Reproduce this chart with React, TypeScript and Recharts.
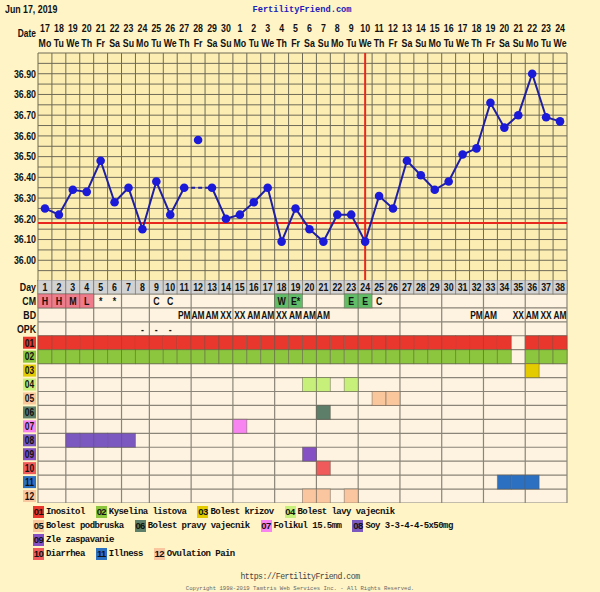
import React from 'react';
import {
  ComposedChart,
  ScatterChart,
  Line,
  Scatter,
  XAxis,
  YAxis,
  CartesianGrid,
  ReferenceLine,
} from 'recharts';

// ---- data ----
const days = [1, 2, 3, 4, 5, 6, 7, 8, 9, 10, 11, 12, 13, 14, 15, 16, 17, 18, 19, 20, 21, 22, 23, 24, 25, 26, 27, 28, 29, 30, 31, 32, 33, 34, 35, 36, 37, 38];
const dateNums = ['17', '18', '19', '20', '21', '22', '23', '24', '25', '26', '27', '28', '29', '30', '1', '2', '3', '4', '5', '6', '7', '8', '9', '10', '11', '12', '13', '14', '15', '16', '17', '18', '19', '20', '21', '22', '23', '24'];
const weekdays = ['Mo', 'Tu', 'We', 'Th', 'Fr', 'Sa', 'Su', 'Mo', 'Tu', 'We', 'Th', 'Fr', 'Sa', 'Su', 'Mo', 'Tu', 'We', 'Th', 'Fr', 'Sa', 'Su', 'Mo', 'Tu', 'We', 'Th', 'Fr', 'Sa', 'Su', 'Mo', 'Tu', 'We', 'Th', 'Fr', 'Sa', 'Su', 'Mo', 'Tu', 'We'];

const temps: (number | null)[] = [36.25, 36.22, 36.34, 36.33, 36.48, 36.28, 36.35, 36.15, 36.38, 36.22, 36.35, null, 36.35, 36.2, 36.22, 36.28, 36.35, 36.09, 36.25, 36.15, 36.09, 36.22, 36.22, 36.09, 36.31, 36.25, 36.48, 36.41, 36.34, 36.38, 36.51, 36.54, 36.76, 36.64, 36.7, 36.9, 36.69, 36.67];
const discardDay = 12;
const discardTemp = 36.58;
const bridgeDays = [11, 13];
const coverline = 36.18;
const ovulationDay = 24;

const tempTicks = [35.9, 35.95, 36.0, 36.05, 36.1, 36.15, 36.2, 36.25, 36.3, 36.35, 36.4, 36.45, 36.5, 36.55, 36.6, 36.65, 36.7, 36.75, 36.8, 36.85, 36.9, 36.95, 37.0];
const tempLabels = [36.0, 36.1, 36.2, 36.3, 36.4, 36.5, 36.6, 36.7, 36.8, 36.9];

const rowLabels = ['Day', 'CM', 'BD', 'OPK', '01', '02', '03', '04', '05', '06', '07', '08', '09', '10', '11', '12'];
const rowIds = [1, 2, 3, 4, 5, 6, 7, 8, 9, 10, 11, 12, 13, 14, 15, 16];

const cm = ['H', 'H', 'M', 'L', '*', '*', '', '', 'C', 'C', '', '', '', '', '', '', '', 'W', 'E*', '', '', '', 'E', 'E', 'C', '', '', '', '', '', '', '', '', '', '', '', '', ''];
const bd = ['', '', '', '', '', '', '', '', '', '', 'PM', 'AM', 'AM', 'XX', 'XX', 'AM', 'AM', 'XX', 'AM', 'AM', 'AM', '', '', '', '', '', '', '', '', '', '', 'PM', 'AM', '', 'XX', 'AM', 'XX', 'AM'];
const opk = ['', '', '', '', '', '', '', '-', '-', '-', '', '', '', '', '', '', '', '', '', '', '', '', '', '', '', '', '', '', '', '', '', '', '', '', '', '', '', ''];

const codes = ['01', '02', '03', '04', '05', '06', '07', '08', '09', '10', '11', '12'];
const codeNames = ['Inositol', 'Kyselina listova', 'Bolest krizov', 'Bolest lavy vajecnik', 'Bolest podbruska', 'Bolest pravy vajecnik', 'Folikul 15.5mm', 'Soy 3-3-4-4-5x50mg', 'Zle zaspavanie', 'Diarrhea', 'Illness', 'Ovulation Pain'];
const codeColors = ['#E9372D', '#8CC63E', '#E3CB00', '#C6F07A', '#FAC79C', '#5D7E69', '#F784F0', '#7B58BF', '#8450C4', '#F05A5A', '#2C70C2', '#F9C6A0'];
const codeDays: number[][] = [
  [1, 2, 3, 4, 5, 6, 7, 8, 9, 10, 11, 12, 13, 14, 15, 16, 17, 18, 19, 20, 21, 22, 23, 24, 25, 26, 27, 28, 29, 30, 31, 32, 33, 34, 36, 37, 38],
  [1, 2, 3, 4, 5, 6, 7, 8, 9, 10, 11, 12, 13, 14, 15, 16, 17, 18, 19, 20, 21, 22, 23, 24, 25, 26, 27, 28, 29, 30, 31, 32, 33, 34, 36, 37, 38],
  [36],
  [20, 21, 23],
  [25, 26],
  [21],
  [15],
  [3, 4, 5, 6, 7],
  [20],
  [21],
  [34, 35, 36],
  [20, 21, 23],
];
const legendRows = [[0, 1, 2, 3], [4, 5, 6, 7], [8], [9, 10, 11]];

// ---- styling ----
const PAGE_BG = '#FFF4C6';
const TEMP_BG = '#FCEEB3';
const CELL_BG = '#FDF3E0';
const SANS = "'Liberation Sans',Arial,sans-serif";
const MONO = "'Liberation Mono','DejaVu Sans Mono',monospace";
const PINK = '#EF7B8B';
const GREEN = '#62BD69';
const cmFill: Record<string, string> = { H: PINK, M: PINK, L: PINK, W: GREEN, 'E*': GREEN, E: GREEN };

const W = 600;
const LEFT = 38;
const RIGHT = 33;
const CW = (W - LEFT - RIGHT) / days.length;
const GRID_H = 223;
const CH = GRID_H / rowLabels.length;
const SQUEEZE = 0.8;

const dayBounds = [...days.map((d) => d - 0.5), days.length + 0.5];
const rowBounds = [...rowIds.map((r) => r - 0.5), rowIds.length + 0.5];

// bold sans squeezed horizontally, like the narrow face of the original
const NText = ({ x, y, anchor = 'middle', size = 11, fill = '#111', children }: any) => (
  <text
    transform={`translate(${x} ${y}) scale(${SQUEEZE} 1)`}
    textAnchor={anchor}
    fontFamily={SANS}
    fontWeight={700}
    fontSize={size}
    fill={fill}
  >
    {children}
  </text>
);

const DateTick = ({ x, payload }: any) => {
  const i = payload.value - 1;
  return (
    <g>
      <NText x={x} y={31.5} size={11}>{dateNums[i]}</NText>
      <NText x={x} y={47} size={11}>{weekdays[i]}</NText>
    </g>
  );
};

const makeTempTick = (anchor: 'start' | 'end') => ({ x, y, payload }: any) => {
  const v = payload.value;
  if (!tempLabels.some((t) => Math.abs(t - v) < 1e-6)) return <g />;
  return (
    <NText x={x} y={y + 3.8} anchor={anchor} size={11}>
      {v.toFixed(2)}
    </NText>
  );
};

const makeRowTick = (side: 'left' | 'right') => ({ x, y, payload }: any) => {
  const idx = payload.value - 1;
  const label = rowLabels[idx];
  if (idx < 4) {
    return (
      <NText x={x} y={y + 3.8} anchor={side === 'left' ? 'end' : 'start'} size={11}>
        {label}
      </NText>
    );
  }
  const bx = side === 'left' ? x - 13 : x - 1;
  return (
    <g>
      <rect x={bx} y={y - 6} width={13} height={12} fill={codeColors[idx - 4]} />
      <NText x={bx + 6.5} y={y + 3.8} size={10.5}>{label}</NText>
    </g>
  );
};

const cellShape = (p: any) => (
  <rect
    x={p.cx - CW / 2}
    y={p.cy - CH / 2}
    width={CW}
    height={CH}
    fill={p.payload.fill}
    stroke="#5a554a"
    strokeOpacity={0.45}
    strokeWidth={1}
  />
);

const textShape = (p: any) => (
  <NText x={p.cx} y={p.cy + 3.8} size={p.payload.size}>
    {p.payload.text}
  </NText>
);

export default function App() {
  const tempData = days.map((d, i) => ({
    day: d,
    temp: temps[i],
    bridge: bridgeDays.includes(d) ? temps[i] : null,
    discard: d === discardDay ? discardTemp : null,
  }));

  const dayCells = days.map((d) => ({ day: d, row: 1, fill: '#D2D2D2', text: String(d), size: 11 }));
  const cmCells = days.map((d, i) => ({ day: d, row: 2, fill: cmFill[cm[i]], text: cm[i], size: 11 })).filter((c) => c.text);
  const bdCells = days.map((d, i) => ({ day: d, row: 3, text: bd[i], size: 10.5 })).filter((c) => c.text);
  const opkCells = days.map((d, i) => ({ day: d, row: 4, text: opk[i], size: 11 })).filter((c) => c.text);
  const codeCells = codeDays.flatMap((list, ci) => list.map((d) => ({ day: d, row: 5 + ci, fill: codeColors[ci] })));
  const textCells = [...dayCells, ...cmCells, ...bdCells, ...opkCells];

  return (
    <div style={{ position: 'relative', width: W, height: 592, background: PAGE_BG, overflow: 'hidden' }}>
      <style>{'body{margin:0}'}</style>

      <svg width={W} height={52} style={{ position: 'absolute', left: 0, top: 0 }}>
        <NText x={5} y={12.5} anchor="start" size={11}>Jun 17, 2019</NText>
        <text x={302} y={12} textAnchor="middle" fontFamily={MONO} fontWeight={700} fontSize={8.7} fill="#2020B8">FertilityFriend.com</text>
        <NText x={36} y={37} anchor="end" size={10.5}>Date</NText>
      </svg>

      <div style={{ position: 'absolute', left: 0, top: 0 }}>
        <ComposedChart width={W} height={281} data={tempData} margin={{ top: 0, right: 0, bottom: 0, left: 0 }}>
          <CartesianGrid
            fill={TEMP_BG}
            fillOpacity={1}
            stroke="#6E6A56"
            strokeWidth={1}
            verticalValues={dayBounds}
            horizontalValues={tempTicks}
          />
          <XAxis
            dataKey="day"
            type="number"
            domain={[0.5, days.length + 0.5]}
            ticks={days}
            interval={0}
            orientation="top"
            height={53}
            axisLine={false}
            tickLine={false}
            tick={<DateTick />}
          />
          <YAxis
            type="number"
            domain={[35.9, 37.0]}
            ticks={tempTicks}
            interval={0}
            width={LEFT}
            axisLine={false}
            tickLine={false}
            tickSize={0}
            tickMargin={2}
            tick={makeTempTick('end')}
          />
          <YAxis
            yAxisId="r"
            orientation="right"
            type="number"
            domain={[35.9, 37.0]}
            ticks={tempTicks}
            interval={0}
            width={RIGHT}
            axisLine={false}
            tickLine={false}
            tickSize={0}
            tickMargin={2}
            tick={makeTempTick('start')}
          />
          <ReferenceLine y={coverline} stroke="#E8281E" strokeWidth={2} />
          <ReferenceLine x={ovulationDay} stroke="#E8281E" strokeWidth={2} />
          <Line
            dataKey="bridge"
            stroke="#1F1FA3"
            strokeWidth={2}
            strokeDasharray="4 3"
            connectNulls
            dot={false}
            isAnimationActive={false}
          />
          <Line
            dataKey="temp"
            stroke="#1F1FA3"
            strokeWidth={2}
            connectNulls={false}
            dot={{ r: 4.3, fill: '#1A1AD8', stroke: 'none' }}
            isAnimationActive={false}
          />
          <Line
            dataKey="discard"
            stroke="none"
            dot={{ r: 4.3, fill: '#1A1AD8', stroke: 'none' }}
            isAnimationActive={false}
          />
        </ComposedChart>
      </div>

      <div style={{ position: 'absolute', left: 0, top: 280 }}>
        <ScatterChart width={W} height={GRID_H} margin={{ top: 0, right: 0, bottom: 0, left: 0 }}>
          <CartesianGrid
            fill={CELL_BG}
            fillOpacity={1}
            stroke="#8A8578"
            strokeWidth={1.2}
            verticalValues={dayBounds}
            horizontalValues={rowBounds}
          />
          <XAxis dataKey="day" type="number" domain={[0.5, days.length + 0.5]} hide />
          <YAxis
            dataKey="row"
            type="number"
            reversed
            domain={[0.5, rowIds.length + 0.5]}
            ticks={rowIds}
            interval={0}
            width={LEFT}
            axisLine={false}
            tickLine={false}
            tickSize={0}
            tickMargin={2}
            tick={makeRowTick('left')}
          />
          <YAxis
            yAxisId="r"
            orientation="right"
            type="number"
            reversed
            domain={[0.5, rowIds.length + 0.5]}
            ticks={rowIds}
            interval={0}
            width={RIGHT}
            axisLine={false}
            tickLine={false}
            tickSize={0}
            tickMargin={2}
            tick={makeRowTick('right')}
          />
          <Scatter data={dayCells} shape={cellShape} isAnimationActive={false} />
          <Scatter data={cmCells.filter((c) => c.fill)} shape={cellShape} isAnimationActive={false} />
          <Scatter data={codeCells} shape={cellShape} isAnimationActive={false} />
          <Scatter data={textCells} shape={textShape} isAnimationActive={false} />
        </ScatterChart>
      </div>

      <div style={{ position: 'absolute', left: 33, top: 504.5 }}>
        {legendRows.map((row, ri) => (
          <div key={ri} style={{ display: 'flex', gap: 11, height: 14, alignItems: 'center' }}>
            {row.map((ci) => (
              <div key={ci} style={{ display: 'flex', alignItems: 'center' }}>
                <span
                  style={{
                    display: 'inline-block',
                    width: 11,
                    height: 12,
                    lineHeight: '12px',
                    background: codeColors[ci],
                    fontFamily: SANS,
                    fontWeight: 700,
                    fontSize: 9.5,
                    letterSpacing: -0.6,
                    textAlign: 'center',
                    color: '#111',
                  }}
                >
                  {codes[ci]}
                </span>
                <span
                  style={{
                    fontFamily: MONO,
                    fontWeight: 700,
                    fontSize: 9,
                    letterSpacing: -0.55,
                    marginLeft: 2,
                    color: '#111',
                    whiteSpace: 'pre',
                  }}
                >
                  {codeNames[ci]}
                </span>
              </div>
            ))}
          </div>
        ))}
      </div>

      <div style={{ position: 'absolute', left: 0, top: 572, width: W, textAlign: 'center', fontFamily: MONO, fontSize: 8.2, letterSpacing: -0.5, color: '#444' }}>
        https://FertilityFriend.com
      </div>
      <div style={{ position: 'absolute', left: 0, top: 585, width: W, textAlign: 'center', fontFamily: MONO, fontSize: 5.6, color: '#666' }}>
        Copyright 1998-2019 Tamtris Web Services Inc. - All Rights Reserved.
      </div>
    </div>
  );
}
